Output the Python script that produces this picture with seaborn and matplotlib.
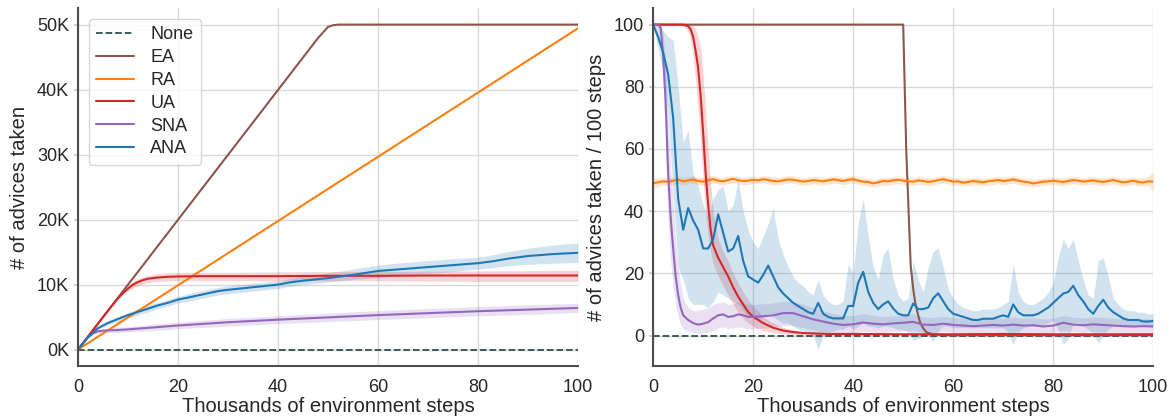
import numpy as np
import matplotlib
matplotlib.use("Agg")
import matplotlib.pyplot as plt
from matplotlib.ticker import FuncFormatter
import seaborn as sns

# ---------------- data ----------------
steps_k = list(range(0, 101))  # thousands of env steps, 1K resolution

# Left panel: cumulative advices taken (in thousands)
none_x = [0, 100]
none_y = [0, 0]

ea_cum_x = [0, 48, 50, 51, 52, 100]
ea_cum = [0, 48.0, 49.7, 49.95, 50.05, 50.05]

ra_cum_x = [0, 20, 40, 60, 80, 100]
ra_cum = [0, 9.9, 19.8, 29.7, 39.6, 49.5]

ua_cum_x = [0, 2, 4, 6, 8, 9, 10, 11, 12, 13, 14, 16, 18, 20, 25, 30, 40, 50, 60, 70, 80, 90, 100]
ua_cum = [0, 2.0, 4.0, 6.0, 7.9, 8.7, 9.4, 10.0, 10.4, 10.7, 10.9, 11.1, 11.2, 11.25, 11.3,
          11.3, 11.3, 11.35, 11.35, 11.4, 11.4, 11.4, 11.4]
ua_cum_hi = [0, 2.0, 4.0, 6.0, 8.0, 8.9, 9.8, 10.5, 10.9, 11.2, 11.4, 11.7, 11.8, 11.85, 11.9,
             11.9, 11.95, 12.0, 12.0, 12.05, 12.1, 12.15, 12.2]
ua_cum_lo = [0, 2.0, 4.0, 6.0, 7.8, 8.5, 9.0, 9.5, 9.9, 10.1, 10.3, 10.5, 10.55, 10.6, 10.6,
             10.6, 10.6, 10.6, 10.6, 10.55, 10.5, 10.5, 10.5]

sna_cum_x = [0, 1, 2, 3, 4, 5, 6, 8, 10, 15, 20, 30, 40, 50, 60, 70, 80, 90, 100]
sna_cum = [0, 1.0, 1.9, 2.5, 2.8, 2.9, 2.95, 3.0, 3.1, 3.4, 3.7, 4.2, 4.6, 4.95, 5.3, 5.6, 5.9, 6.15, 6.4]
sna_cum_hi = [0, 1.0, 2.0, 2.7, 3.1, 3.2, 3.3, 3.4, 3.5, 3.9, 4.2, 4.8, 5.2, 5.6, 6.0, 6.3, 6.6, 6.9, 7.1]
sna_cum_lo = [0, 1.0, 1.8, 2.3, 2.5, 2.6, 2.6, 2.6, 2.7, 2.9, 3.2, 3.6, 4.0, 4.3, 4.6, 4.9, 5.2, 5.4, 5.7]

ana_cum_x = [0, 2, 4, 6, 8, 10, 12, 14, 16, 18, 20, 22, 25, 28, 30, 35, 40, 42, 45, 50,
             55, 60, 65, 70, 75, 80, 83, 86, 90, 95, 100]
ana_cum = [0, 1.9, 3.3, 4.1, 4.7, 5.3, 5.8, 6.3, 6.8, 7.2, 7.7, 8.0, 8.5, 9.0, 9.2, 9.6, 10.0,
           10.3, 10.6, 11.0, 11.5, 12.1, 12.4, 12.7, 13.0, 13.3, 13.6, 14.0, 14.4, 14.7, 14.9]
ana_cum_hi = [0, 2.0, 3.5, 4.4, 5.1, 5.7, 6.3, 6.8, 7.3, 7.7, 8.2, 8.6, 9.1, 9.6, 9.8, 10.2, 10.6,
              10.9, 11.3, 11.8, 12.4, 13.0, 13.4, 13.7, 14.0, 14.2, 14.6, 15.1, 15.6, 16.1, 16.4]
ana_cum_lo = [0, 1.8, 3.1, 3.8, 4.3, 4.9, 5.3, 5.8, 6.3, 6.7, 7.2, 7.4, 7.9, 8.4, 8.6, 9.0, 9.4,
              9.7, 10.0, 10.4, 10.8, 11.1, 11.4, 11.7, 12.0, 12.4, 12.6, 12.9, 13.1, 13.3, 13.4]

# Right panel: advices taken per 100 steps
ea_rate_x = [0, 50, 50.3, 50.6, 51.1, 51.5, 52, 52.4, 53, 53.4, 54, 54.7, 56, 60, 100]
ea_rate = [100, 100, 80, 60, 39, 22.4, 15, 10.6, 6.5, 4.1, 2.3, 1.0, 0.3, 0.1, 0.1]

ra_rate = [49.0, 49.3, 49.6, 49.4, 49.8, 50.1, 49.6, 49.9, 50.2, 49.7,
           49.5, 49.9, 50.3, 49.8, 49.6, 50.0, 50.4, 49.9, 49.7, 49.8,
           50.1, 49.9, 50.3, 50.0, 49.7, 49.6, 49.9, 50.2, 50.1, 49.8,
           49.5, 49.7, 50.0, 49.8, 49.6, 49.9, 50.2, 50.0, 49.7, 50.1,
           50.3, 49.8, 49.5, 49.4, 48.9, 49.3, 49.7, 49.6, 49.9, 50.1,
           49.8, 49.6, 49.5, 49.9, 49.7, 49.4, 49.6, 50.0, 50.3, 49.9,
           49.5, 49.6, 49.2, 49.4, 49.7, 49.5, 49.3, 49.6, 49.8, 50.0,
           49.7, 49.9, 50.2, 49.8, 49.5, 49.3, 48.9, 49.2, 49.5, 49.6,
           49.8, 49.6, 49.4, 49.7, 50.0, 49.8, 49.5, 49.7, 49.9, 49.6,
           49.4, 49.7, 50.0, 49.6, 49.3, 49.5, 49.8, 49.4, 49.2, 49.6,
           49.5]
ra_rate_hi = [50.6, 50.6, 50.9, 50.7, 51.0, 51.3, 50.9, 51.1, 51.4, 50.9,
              50.8, 51.1, 51.5, 51.0, 50.9, 51.2, 51.6, 51.1, 50.9, 51.0,
              51.3, 51.1, 51.5, 51.2, 50.9, 50.8, 51.1, 51.4, 51.3, 51.0,
              50.7, 50.9, 51.2, 51.0, 50.8, 51.1, 51.4, 51.2, 50.9, 51.3,
              51.5, 51.0, 50.7, 50.6, 50.2, 50.5, 50.9, 50.8, 51.1, 51.3,
              51.0, 50.8, 50.7, 51.1, 50.9, 50.6, 50.8, 51.2, 51.5, 51.1,
              50.7, 50.8, 50.4, 50.6, 50.9, 50.7, 50.5, 50.8, 51.0, 51.2,
              50.9, 51.1, 51.4, 51.0, 50.7, 50.5, 50.2, 50.4, 50.7, 50.8,
              51.0, 50.8, 50.6, 50.9, 51.2, 51.0, 50.7, 50.9, 51.1, 50.8,
              50.6, 50.9, 51.2, 50.8, 50.5, 50.7, 51.0, 50.7, 50.6, 51.2,
              52.5]
ra_rate_lo = [47.2, 48.0, 48.4, 48.2, 48.6, 48.9, 48.4, 48.7, 49.0, 48.5,
              48.3, 48.7, 49.1, 48.6, 48.4, 48.8, 49.2, 48.7, 48.5, 48.6,
              48.9, 48.7, 49.1, 48.8, 48.5, 48.4, 48.7, 49.0, 48.9, 48.6,
              48.3, 48.5, 48.8, 48.6, 48.4, 48.7, 49.0, 48.8, 48.5, 48.9,
              49.1, 48.6, 48.3, 48.2, 47.7, 48.1, 48.5, 48.4, 48.7, 48.9,
              48.6, 48.4, 48.3, 48.7, 48.5, 48.2, 48.4, 48.8, 49.1, 48.7,
              48.3, 48.4, 48.0, 48.2, 48.5, 48.3, 48.1, 48.4, 48.6, 48.8,
              48.5, 48.7, 49.0, 48.6, 48.3, 48.1, 47.7, 48.0, 48.3, 48.4,
              48.6, 48.4, 48.2, 48.5, 48.8, 48.6, 48.3, 48.5, 48.7, 48.4,
              48.2, 48.5, 48.8, 48.4, 48.1, 48.3, 48.6, 48.2, 48.0, 48.2,
              46.5]

ua_rate_x = [0, 5, 6, 7, 7.5, 8, 8.5, 9, 9.5, 10, 10.5, 11, 11.5, 12, 13, 14, 15, 16, 17, 18,
             19, 20, 22, 24, 26, 28, 30, 35, 40, 50, 60, 70, 80, 90, 100]
ua_rate = [100, 100, 100, 99.5, 98.5, 96, 91.5, 86, 77, 65, 52, 42, 34, 29, 25, 22, 19, 15.5,
           12.5, 10, 7.6, 6, 4, 2.5, 1.6, 1.1, 0.8, 0.5, 0.5, 0.4, 0.4, 0.5, 0.4, 0.4, 0.4]
ua_rate_hi = [100, 100, 100, 100, 100, 99.5, 98.5, 96, 92, 84, 72, 60, 49, 40, 31, 27, 24,
              20, 17, 14, 11.5, 9.5, 6, 4, 2.6, 1.8, 1.3, 0.9, 0.8, 0.7, 0.7, 0.8, 0.7, 0.7, 0.8]
ua_rate_lo = [100, 100, 99.5, 98, 95, 90, 82, 72, 62, 50, 39, 32, 27, 23, 19, 16, 13, 10,
              7.5, 5.5, 4, 3, 1.6, 1.0, 0.5, 0.3, 0.2, 0.1, 0.1, 0.1, 0.1, 0.1, 0.1, 0.1, 0.1]

sna_rate_x = [0, 1, 1.5, 2, 2.5, 3, 3.5, 4, 4.5, 5, 5.5, 6, 7, 8, 9, 10, 11, 12, 13, 14,
              15, 16, 17, 18, 19, 20,
              22, 24, 26, 28, 30, 32, 34, 36, 38, 40, 42, 44, 46, 48, 50, 52, 54, 56, 58, 60,
              62, 64, 66, 68, 70, 72, 74, 76, 78, 80, 82, 84, 86, 88, 90, 92, 94, 96, 98, 100]
sna_rate = [100, 100, 99, 90, 75, 52, 38, 28, 19, 13, 9, 6.5, 5, 4, 3.5, 3.8, 4.3, 5.5, 6.5, 6.8,
            6, 6.2, 6.8, 6.5, 6, 6,
            6.2, 6.5, 7.2, 7.2, 6.2, 5.2, 4.5, 3.8, 3.4, 3.6, 4.2, 3.8, 3.6, 3.9, 4.1, 4.4, 3.5,
            3.4, 3.8, 3.4, 3.2, 3.0, 3.2, 3.4, 3.2, 3.5, 3.2, 3.3, 2.9, 3.2, 4.1, 3.5, 3.3, 3.6,
            3.4, 3.2, 3.0, 2.9, 3.0, 2.9]
sna_rate_hi = [100, 100, 100, 97, 88, 70, 54, 42, 30, 22, 16, 12, 9, 8, 8, 8.5, 9, 10, 10.5, 10.8,
               10, 10.2, 10.8, 10.5, 10, 10,
               10.2, 10.5, 11, 11, 10, 9, 8, 7, 6.5, 6.5, 7, 6.5, 6, 6.3, 6.5, 7, 6, 5.8, 6.2,
               5.8, 5.6, 5.4, 5.6, 5.8, 5.6, 5.9, 5.6, 5.7, 5.3, 5.6, 6.5, 5.9, 5.7, 6, 5.8, 5.6,
               5.4, 5.3, 5.4, 5.3]
sna_rate_lo = [100, 100, 96, 80, 60, 36, 24, 16, 10, 6, 3.5, 2, 1.5, 1, 0.8, 0.8, 1, 1.5, 2.5, 2.8,
               2.2, 2.4, 2.8, 2.5, 2.2, 2.2,
               2.4, 2.6, 3.2, 3.2, 2.5, 1.8, 1.2, 0.8, 0.6, 0.8, 1.4, 1.1, 1, 1.3, 1.5, 1.8, 1,
               0.9, 1.3, 1, 0.9, 0.8, 0.9, 1.1, 0.9, 1.2, 0.9, 1, 0.7, 0.9, 1.7, 1.2, 1, 1.3, 1.1,
               0.9, 0.7, 0.6, 0.7, 0.6]

ana_rate = [100, 96, 91, 84, 70, 44, 34, 41, 37, 34,
            28, 28, 31, 39, 33, 27, 28, 32, 24, 19,
            18, 17, 19.5, 22.5, 19, 15.5, 13.5, 12, 10.5, 9.5,
            8.5, 7.5, 7, 10.5, 7, 6, 5.5, 5.5, 5.5, 9.5,
            9.5, 17, 20.5, 14, 10.5, 8.5, 10, 11, 8.7, 7,
            6.5, 6.5, 10.3, 8.5, 8.5, 9, 12, 13.6, 11, 8.5,
            7, 6.5, 6, 5.5, 5, 5, 5.4, 5.4, 5.4, 6,
            6.5, 6, 10, 7.5, 6.5, 6.5, 6.5, 7, 8, 9,
            10.5, 12, 13.5, 14, 16, 13, 11, 8.5, 7, 9.5,
            11.5, 9, 7.5, 6.5, 5.5, 5, 5, 5, 4.5, 4.5,
            4.7]
ana_rate_hi = [100, 100, 98, 96, 95, 80, 62, 66, 52, 48,
               42, 38, 44, 47, 48, 40, 42, 50, 40, 34,
               30, 28, 32, 36, 41, 31, 26, 22, 19, 17,
               16, 14, 13, 18, 13, 11, 10, 10, 11, 23,
               20, 36, 44, 32, 22, 18, 26, 28, 18, 13,
               11, 12, 24, 18, 14, 22, 27, 28, 22, 15,
               12, 10, 9, 8.5, 8, 8, 8.5, 8.5, 8.5, 9,
               10, 11, 23, 14, 11, 10, 10, 11, 12, 14,
               17, 25, 31, 28, 31, 24, 18, 13, 12, 24,
               25, 19, 12, 10, 8.5, 8, 8, 7.5, 7.5, 7,
               7]
ana_rate_lo = [100, 92, 85, 72, 45, 22, 18, 12, 10, 10,
               10, 9, 11, 14, 13, 12, 11, 10, 8, 6,
               6, 5, 6, 7, 6, 5, 4, 4, 3, 2,
               1.5, 1, 0, -4.5, 0, 1, 1.5, 2, 2, 3,
               2, 3, 4, 3, 3, 2.5, 3, 3, 2.5, 2,
               2, 1, -1.5, -1, 0, 0, -2, 1.5, 3, 3,
               2.5, 2.5, 2.5, 2.5, 2.5, 2.5, 2.5, 2.5, 2.5, 2.5,
               2.5, 1, -3, 1, 2.5, 3, 3, 3, 3.5, 4,
               5, 2, -3, -1, 4, 4, 3, 2, 0.5, -2.5,
               0, 2, 3, 3, 3, 3, 3, 3, 3, 3,
               3]

# ---------------- style ----------------
sns.set_theme(style="whitegrid")
plt.rcParams.update({
    "font.family": ["Liberation Sans", "DejaVu Sans"],
    "axes.edgecolor": "0.3",
    "axes.linewidth": 1.5,
    "grid.color": "0.85",
    "xtick.labelsize": 13,
    "ytick.labelsize": 13,
    "axes.labelsize": 14.5,
    "legend.fontsize": 13,
    "text.color": "0.15",
    "axes.labelcolor": "0.15",
    "ytick.left": True,
    "ytick.major.size": 3,
    "ytick.color": "0.8",
    "ytick.labelcolor": "0.15",
})

C_NONE = "#2f4f4f"
C_EA = "#8c564b"
C_RA = "#ff7f0e"
C_UA = "#d62728"
C_SNA = "#9467bd"
C_ANA = "#1f77b4"
LW = 1.5
BAND_ALPHA = 0.2

fig, (ax1, ax2) = plt.subplots(1, 2, figsize=(11.72, 4.18), dpi=100)
fig.subplots_adjust(left=0.0666, right=0.984, top=0.98, bottom=0.125, wspace=0.15)

# ---- left panel ----
sns.lineplot(x=none_x, y=none_y, ax=ax1, color=C_NONE, linestyle="--", lw=1.3, label="None")
sns.lineplot(x=ea_cum_x, y=ea_cum, ax=ax1, color=C_EA, lw=LW, label="EA")
sns.lineplot(x=ra_cum_x, y=ra_cum, ax=ax1, color=C_RA, lw=LW, label="RA")
ax1.fill_between(ua_cum_x, ua_cum_lo, ua_cum_hi, color=C_UA, alpha=BAND_ALPHA, lw=0)
sns.lineplot(x=ua_cum_x, y=ua_cum, ax=ax1, color=C_UA, lw=LW, label="UA")
ax1.fill_between(sna_cum_x, sna_cum_lo, sna_cum_hi, color=C_SNA, alpha=BAND_ALPHA, lw=0)
sns.lineplot(x=sna_cum_x, y=sna_cum, ax=ax1, color=C_SNA, lw=LW, label="SNA")
ax1.fill_between(ana_cum_x, ana_cum_lo, ana_cum_hi, color=C_ANA, alpha=BAND_ALPHA, lw=0)
sns.lineplot(x=ana_cum_x, y=ana_cum, ax=ax1, color=C_ANA, lw=LW, label="ANA")

ax1.set_xlim(0, 100)
ax1.set_xticks([0, 20, 40, 60, 80, 100])
ax1.set_yticks([0, 10, 20, 30, 40, 50])
ax1.yaxis.set_major_formatter(FuncFormatter(lambda v, p: f"{v:.0f}K"))
ax1.set_xlabel("Thousands of environment steps", labelpad=1)
ax1.set_ylabel("# of advices taken", labelpad=6)
ax1.legend(loc="upper left", frameon=True, handlelength=2.1, borderaxespad=0.6,
           labelspacing=0.32, handletextpad=0.9)

# ---- right panel ----
sns.lineplot(x=none_x, y=none_y, ax=ax2, color=C_NONE, linestyle="--", lw=1.3, legend=False)
sns.lineplot(x=ea_rate_x, y=ea_rate, ax=ax2, color=C_EA, lw=LW, legend=False)
ax2.fill_between(steps_k, ra_rate_lo, ra_rate_hi, color=C_RA, alpha=BAND_ALPHA, lw=0)
sns.lineplot(x=steps_k, y=ra_rate, ax=ax2, color=C_RA, lw=LW, legend=False)
ax2.fill_between(ua_rate_x, ua_rate_lo, ua_rate_hi, color=C_UA, alpha=BAND_ALPHA, lw=0)
sns.lineplot(x=ua_rate_x, y=ua_rate, ax=ax2, color=C_UA, lw=LW, legend=False)
ax2.fill_between(sna_rate_x, sna_rate_lo, sna_rate_hi, color=C_SNA, alpha=BAND_ALPHA, lw=0)
sns.lineplot(x=sna_rate_x, y=sna_rate, ax=ax2, color=C_SNA, lw=LW, legend=False)
ax2.fill_between(steps_k, ana_rate_lo, ana_rate_hi, color=C_ANA, alpha=BAND_ALPHA, lw=0)
sns.lineplot(x=steps_k, y=ana_rate, ax=ax2, color=C_ANA, lw=LW, legend=False)

ax2.set_xlim(0, 100)
ax2.set_xticks([0, 20, 40, 60, 80, 100])
ax2.set_yticks([0, 20, 40, 60, 80, 100])
ax2.set_xlabel("Thousands of environment steps", labelpad=1)
ax2.set_ylabel("# of advices taken / 100 steps", labelpad=6)

sns.despine(fig=fig)
fig.savefig("out.png", dpi=100)
